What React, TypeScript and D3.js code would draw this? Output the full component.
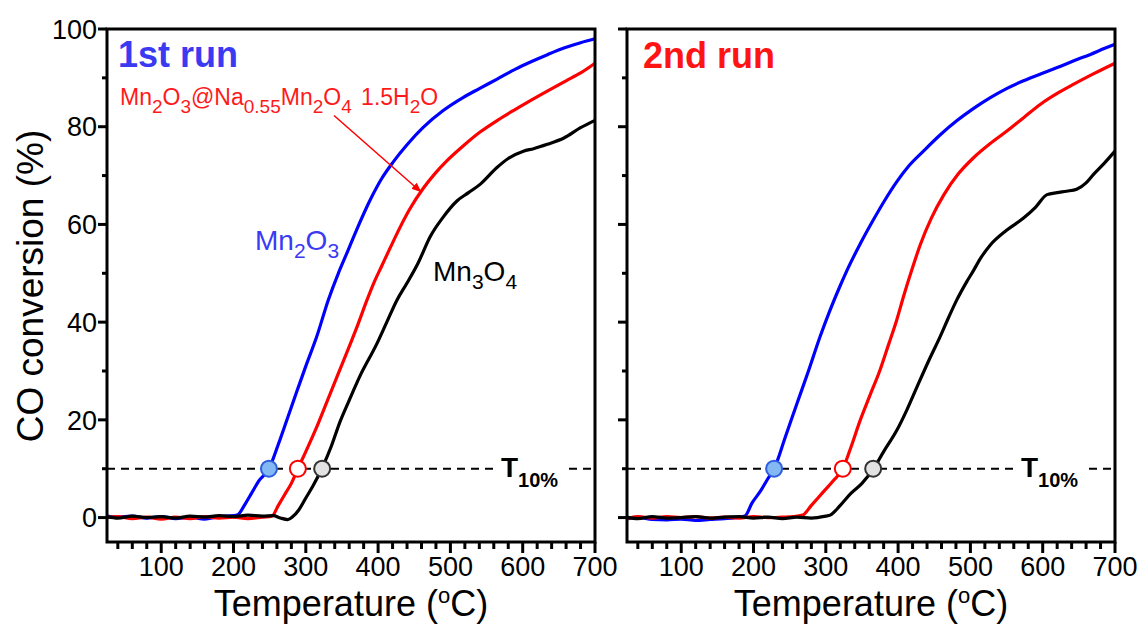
import React from 'react';
import * as d3 from 'd3';

type Pt = [number, number];

// ---------- data (temperature °C, CO conversion %) ----------
const run1Mn2O3: Pt[] = [
  [25, 0.3], [40, 0.1], [60, 0.3], [80, -0.1], [100, 0.2], [120, -0.2], [140, 0.1], [160, -0.3], [180, 0.2],
  [200, 0.4], [206, 0.6], [215, 2.5], [225, 5], [235, 7.5], [249, 10], [262, 15], [275, 20.5], [288, 26],
  [300, 31], [315, 37], [331, 44.5], [345, 50], [355, 53.5], [370, 58.8], [390, 65.3], [405, 69.4], [421, 72.8],
  [440, 76.3], [462, 79.8], [490, 83.3], [518, 86], [540, 87.8], [564, 89.7], [590, 91.8], [610, 93.2], [635, 94.8],
  [657, 96.1], [680, 97.2], [700, 98],
];
const run1Composite: Pt[] = [
  [25, 0], [40, 0.2], [60, -0.2], [80, 0.1], [100, -0.3], [120, 0.1], [140, -0.2], [160, 0.2], [180, -0.1],
  [200, 0.1], [220, -0.2], [240, 0.1], [253, 0.3], [262, 2.5], [272, 5], [280, 7], [289, 10], [300, 13.5],
  [315, 18.5], [330, 24], [345, 29.5], [360, 35], [372, 39.5], [384, 44.3], [394, 48], [405, 51.5], [417, 55.3],
  [430, 59.3], [444, 63.2], [462, 67.3], [478, 70.3], [495, 73], [518, 76.1], [541, 78.9], [565, 81.3], [587, 83.3],
  [610, 85.3], [634, 87.3], [660, 89.4], [680, 91], [700, 93],
];
const run1Mn3O4: Pt[] = [
  [25, 0.2], [40, -0.1], [60, 0.3], [80, 0], [100, 0.2], [120, -0.1], [140, 0.3], [160, 0.1], [180, 0.4],
  [200, 0.2], [220, 0.5], [240, 0.3], [255, 0.4], [265, -0.1], [275, -0.4], [282, 0.2], [290, 1.5], [300, 4],
  [310, 6.5], [322, 10], [335, 14.5], [347, 19.5], [360, 24], [375, 29], [398, 35.5], [412, 40], [426, 44.5],
  [440, 48], [455, 52], [472, 57.5], [490, 61.5], [509, 64.8], [525, 66.5], [541, 68.2], [564, 71.6],
  [580, 73.5], [601, 75], [615, 75.5], [634, 76.4], [657, 77.7], [680, 79.8], [700, 81.3],
];

const run2Mn2O3: Pt[] = [
  [25, -0.3], [40, 0.1], [60, -0.4], [80, -0.5], [100, -0.3], [120, -0.6], [140, -0.4], [160, -0.2], [175, 0],
  [188, 0.3], [198, 3], [210, 5.5], [220, 8], [228.5, 10], [244, 16.5], [260, 23.3], [276, 30], [292, 37],
  [306, 42.5], [320, 47.5], [329, 50.5], [347.5, 56], [366, 61], [381, 64.8], [398, 68.7], [415, 72],
  [435, 75], [458, 78.3], [481, 81.2], [504, 83.7], [527, 85.9], [550, 87.8], [573.5, 89.4], [597, 90.8],
  [620, 92.1], [643, 93.5], [666, 94.8], [685, 96], [700, 96.9],
];
const run2Composite: Pt[] = [
  [25, -0.2], [40, 0.2], [60, -0.1], [80, 0.2], [100, 0], [120, 0.2], [140, -0.1], [160, 0.1], [180, -0.1],
  [200, 0.2], [220, 0], [240, 0.1], [255, 0.2], [268, 0.5], [280, 2.5], [295, 5], [310, 7.5], [323.5, 10],
  [335, 14.5], [347.5, 19.9], [361, 25], [375, 30.2], [387, 35.5], [398, 40.4], [408, 45.5], [419, 50.7],
  [430.5, 55.8], [446, 61.3], [463, 66], [483, 70.3], [504, 73.6], [527, 76.5], [550.5, 79.1], [574, 81.9],
  [597, 84.6], [620, 86.8], [643, 88.7], [670, 90.8], [700, 93],
];
const run2Mn3O4: Pt[] = [
  [25, 0.1], [40, -0.2], [60, 0.2], [80, -0.1], [100, 0], [120, 0.2], [140, -0.1], [160, 0.1], [180, 0.2],
  [200, -0.1], [220, 0.1], [240, -0.2], [260, 0.1], [280, -0.1], [300, 0.3], [306, 0.5], [320, 2.5], [335, 5],
  [350, 7], [366, 10], [380, 13.5], [398, 17.8], [412, 22], [426, 26.7], [442, 32], [458, 37], [470, 41],
  [481, 44.5], [495, 48.3], [504, 50.5], [515, 53.3], [527, 55.7], [550, 58.8], [573.5, 61.3], [590, 63.5],
  [606, 66.1], [620, 66.5], [633, 66.8], [647, 67.2], [660, 68.5], [670, 70.2], [685, 72.5], [700, 75],
];

// T10% markers (temperature at 10 % conversion)
const run1T10 = [249, 289, 322.6];
const run2T10 = [228.5, 323.5, 365.5];
const t10Level = 10;

// ticks
const xMajorTicks = [100, 200, 300, 400, 500, 600, 700];
const xMinorTicks = [40, 60, 80, 120, 140, 160, 180, 220, 240, 260, 280, 320, 340, 360, 380, 420, 440, 460, 480,
  520, 540, 560, 580, 620, 640, 660, 680];
const yMajorTicks = [0, 20, 40, 60, 80, 100];
const yMinorTicks = [10, 30, 50, 70, 90];

const FONT = "'Liberation Sans', Arial, Helvetica, sans-serif";

const seriesStyle = [
  { color: '#0000ff', markerFill: '#84b8f2', markerStroke: '#2f5fe0' },
  { color: '#ff0000', markerFill: '#ffffff', markerStroke: '#ff0000' },
  { color: '#000000', markerFill: '#e2e2e2', markerStroke: '#333333' },
];

const TOP = 29;
const BOTTOM = 542;

type Part = [string, boolean];

function Chem({ x, y, parts, size, sub, shift, fill, weight = 'normal', dx0 }: {
  x: number; y: number; parts: Part[]; size: number; sub: number; shift: number; fill: string; weight?: string; dx0?: { [k: number]: number };
}) {
  let cur = 0;
  return (
    <text x={x} y={y} fill={fill} fontSize={size} fontWeight={weight} fontFamily={FONT} style={{ whiteSpace: 'pre' }}>
      {parts.map(([t, isSub], i) => {
        const target = isSub ? shift : 0;
        const dy = target - cur;
        cur = target;
        return (
          <tspan key={i} dy={dy} dx={dx0 && dx0[i] ? dx0[i] : 0} fontSize={isSub ? sub : size}>{t}</tspan>
        );
      })}
    </text>
  );
}

function Panel({ x0, x1, series, t10, showYLabels }: {
  x0: number; x1: number; series: Pt[][]; t10: number[]; showYLabels: boolean;
}) {
  const x = d3.scaleLinear().domain([25, 700]).range([x0, x1]);
  const y = d3.scaleLinear().domain([-5, 100]).range([BOTTOM, TOP]);
  const line = d3.line<Pt>().x((d) => x(d[0])).y((d) => y(d[1])).curve(d3.curveMonotoneX);
  const labelX = x(570);
  return (
    <g>
      {/* dashed T10 line */}
      <line x1={x0} x2={labelX - 3} y1={y(t10Level)} y2={y(t10Level)} stroke="#000" strokeWidth={2} strokeDasharray="8,6" />
      <line x1={labelX + 68} x2={x1} y1={y(t10Level)} y2={y(t10Level)} stroke="#000" strokeWidth={2} strokeDasharray="8,6" />
      <text x={labelX} y={y(t10Level) + 8} fontFamily={FONT} fontWeight="bold" fontSize={28} fill="#000">
        T<tspan fontSize={20} dy={10}>10%</tspan>
      </text>

      {/* curves */}
      {series.map((s, i) => (
        <path key={i} d={line(s) || ''} fill="none" stroke={seriesStyle[i].color} strokeWidth={3.2} strokeLinejoin="round" />
      ))}
      {/* markers */}
      {t10.map((t, i) => (
        <circle key={i} cx={x(t)} cy={y(t10Level)} r={8} fill={seriesStyle[i].markerFill} stroke={seriesStyle[i].markerStroke} strokeWidth={2} />
      ))}

      {/* frame */}
      <rect x={x0} y={TOP} width={x1 - x0} height={BOTTOM - TOP} fill="none" stroke="#000" strokeWidth={3} />

      {/* x ticks */}
      {xMajorTicks.map((t) => (
        <g key={'xM' + t}>
          <line x1={x(t)} x2={x(t)} y1={BOTTOM} y2={BOTTOM + 11} stroke="#000" strokeWidth={3} />
          <text x={x(t)} y={576} textAnchor="middle" fontSize={27} fontFamily={FONT} fill="#000">{t}</text>
        </g>
      ))}
      {xMinorTicks.map((t) => (
        <line key={'xm' + t} x1={x(t)} x2={x(t)} y1={BOTTOM} y2={BOTTOM + 7} stroke="#000" strokeWidth={3} />
      ))}

      {/* y ticks */}
      {yMajorTicks.map((t) => (
        <g key={'yM' + t}>
          <line x1={x0} x2={x0 - 9} y1={y(t)} y2={y(t)} stroke="#000" strokeWidth={3} />
          {showYLabels && (
            <text x={x0 - 10} y={y(t)} dy="0.36em" textAnchor="end" fontSize={27} fontFamily={FONT} fill="#000">{t}</text>
          )}
        </g>
      ))}
      {yMinorTicks.map((t) => (
        <line key={'ym' + t} x1={x0} x2={x0 - 5} y1={y(t)} y2={y(t)} stroke="#000" strokeWidth={3} />
      ))}

      {/* x title */}
      <text x={(x0 + x1) / 2} y={616} textAnchor="middle" fontSize={36} fontFamily={FONT} fill="#000" style={{ whiteSpace: 'pre' }}>
        Temperature (<tspan fontSize={22} dy={-13}>o</tspan><tspan dy={13}>C)</tspan>
      </text>
    </g>
  );
}

export default function App() {
  const xl = d3.scaleLinear().domain([25, 700]).range([107, 595]);
  const yl = d3.scaleLinear().domain([-5, 100]).range([BOTTOM, TOP]);
  const arrowStart: Pt = [339, 82.3];
  const arrowEnd: Pt = [459, 66.7];
  return (
    <svg width={1145} height={631} style={{ position: 'absolute', left: 0, top: 0, background: '#fff' }}>
      <defs>
        <marker id="arrowRed" viewBox="0 0 10 10" refX="9" refY="5" markerWidth="10" markerHeight="10" orient="auto" markerUnits="userSpaceOnUse">
          <path d="M0,1 L10,5 L0,9 z" fill="#ff0000" />
        </marker>
      </defs>
      <rect x={0} y={0} width={1145} height={631} fill="#fff" />

      <Panel x0={107} x1={595} series={[run1Mn2O3, run1Composite, run1Mn3O4]} t10={run1T10} showYLabels={true} />
      <Panel x0={627} x1={1115} series={[run2Mn2O3, run2Composite, run2Mn3O4]} t10={run2T10} showYLabels={false} />

      {/* y title */}
      <text transform="translate(43,286) rotate(-90)" textAnchor="middle" fontSize={37} fontFamily={FONT} fill="#000">
        CO conversion (%)
      </text>

      {/* panel titles */}
      <text x={118} y={67} fontSize={36} fontWeight="bold" fontFamily={FONT} fill="#3a3af2">1st run</text>
      <text x={643} y={68} fontSize={36} fontWeight="bold" fontFamily={FONT} fill="#ff1414">2nd run</text>

      {/* series labels */}
      <Chem x={120} y={105} size={23} sub={19} shift={8} fill="#ff1a1a"
        parts={[["Mn", false], ["2", true], ["O", false], ["3", true], ["@Na", false], ["0.55", true], ["Mn", false], ["2", true], ["O", false], ["4", true], [" 1.5H", false], ["2", true], ["O", false]]}
        dx0={{ 10: 3 }} />
      <line x1={xl(arrowStart[0])} y1={yl(arrowStart[1])} x2={xl(arrowEnd[0])} y2={yl(arrowEnd[1])} stroke="#ff0000" strokeWidth={1.5} markerEnd="url(#arrowRed)" />

      <Chem x={255} y={250} size={28} sub={21} shift={8} fill="#3a3af2"
        parts={[["Mn", false], ["2", true], ["O", false], ["3", true]]} />
      <Chem x={433} y={281} size={28} sub={21} shift={8} fill="#000"
        parts={[["Mn", false], ["3", true], ["O", false], ["4", true]]} />
    </svg>
  );
}
